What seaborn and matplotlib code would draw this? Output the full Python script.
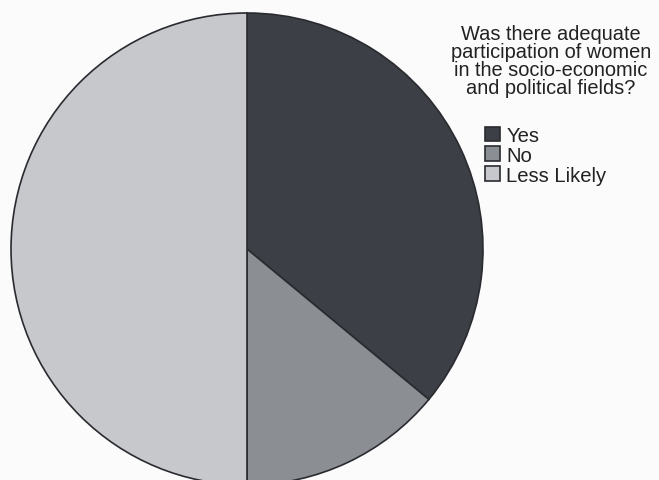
import matplotlib
matplotlib.use("Agg")
import matplotlib.pyplot as plt
import seaborn as sns
from matplotlib.patches import Patch

# Survey responses (percent of respondents)
categories = ["Yes", "No", "Less Likely"]
shares = [36, 14, 50]
title_lines = [
    "Was there adequate",
    "participation of women",
    "in the socio-economic",
    "and political fields?",
]

sns.set_theme(style="white")
plt.rcParams["font.family"] = ["Liberation Sans", "DejaVu Sans"]

colors = ["#3c3f45", "#8b8e93", "#c6c8cc"]
edge = "#2a2b30"

W, H = 659, 481
fig = plt.figure(figsize=(W / 100, H / 100), dpi=100, facecolor="#fbfbfb")

# pie centre and radius in pixels
cx, cy, r = 247, 250, 236
ax = fig.add_axes([(cx - r) / W, (H - cy - r) / H, 2 * r / W, 2 * r / H])
ax.pie(
    shares,
    colors=colors,
    startangle=90,
    counterclock=False,
    radius=1,
    wedgeprops=dict(edgecolor=edge, linewidth=1.2),
)
ax.set_xlim(-1, 1)
ax.set_ylim(-1, 1)
ax.set_aspect("equal")
ax.axis("off")

fig.text(
    551 / W, 1 - 25 / H, "\n".join(title_lines),
    ha="center", va="top", multialignment="center",
    fontsize=14.4, linespacing=0.93, color="#222222",
)

handles = [Patch(facecolor=c, edgecolor=edge, linewidth=1.2) for c in colors]
fig.legend(
    handles, categories,
    loc="upper left", bbox_to_anchor=(485 / W, 1 - 127 / H),
    frameon=False, fontsize=14.6, labelcolor="#222222",
    handlelength=0.75, handleheight=0.72, handletextpad=0.3,
    labelspacing=0.04, borderpad=0, borderaxespad=0,
)

fig.savefig("out.png", dpi=100, facecolor=fig.get_facecolor())
